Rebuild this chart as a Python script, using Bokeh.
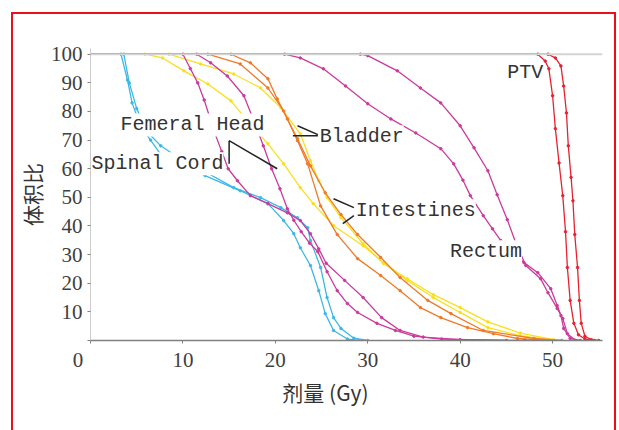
from bokeh.plotting import figure
from bokeh.layouts import column
from bokeh.models import Range1d, Label, Span, FixedTicker
from bokeh.embed import file_html
from bokeh.resources import INLINE

# ---------------- data (dose Gy, volume %) ----------------
spinal1_x = [0, 3.3, 4.0, 4.5, 5.4, 6.5, 7.6, 12.4, 16.2, 19.2, 20.9, 22.0, 22.7, 23.8, 24.7, 25.4, 26.3, 27.8, 29.0]
spinal1_y = [100, 100, 91, 83, 75, 70, 65, 57.6, 52.3, 47.8, 41.9, 37.3, 32.4, 26.2, 17.4, 9.4, 3.5, 0.5, 0]
spinal2_x = [0, 3.6, 4.2, 5.0, 6.1, 7.6, 9.0, 12.2, 15.5, 18.4, 20.6, 22.4, 23.5, 23.8, 24.9, 25.6, 26.3, 27.1, 28.5, 30.0]
spinal2_y = [100, 100, 90, 81, 73, 68, 65, 59.3, 53.4, 49.9, 46.4, 42.9, 39.4, 34.9, 25.5, 15, 8, 4.2, 0.8, 0]

femoral1_x = [0, 10, 10.8, 11.6, 12.3, 12.9, 13.5, 14.2, 14.9, 15.9, 17.3, 19.2, 21.3, 22.7, 23.8, 24.7, 25.5, 27.5, 29.5, 31.5, 33.5, 36, 40, 47]
femoral1_y = [100, 100, 95, 90, 84, 78, 72, 66, 60, 55.8, 50.6, 47.8, 44.6, 41.9, 37.3, 32, 27, 21, 15, 8, 3.5, 1.2, 0.3, 0]
femoral2_x = [0, 11.5, 13, 14.8, 16.6, 17.6, 18.7, 19.6, 20.5, 21.3, 22.0, 22.8, 23.7, 24.6, 25.6, 26.7, 27.8, 28.9, 31, 33, 35, 38, 45]
femoral2_y = [100, 100, 97, 92.4, 85.5, 77.4, 68, 60, 53, 46, 42, 38, 34, 31, 24, 17.4, 12.9, 9.8, 6, 3.5, 1.5, 0.5, 0]

bladder1_x = [0, 12.7, 16.2, 19.2, 20.9, 22.4, 23.5, 24.9, 26.7, 28.9, 31.4, 33.5, 35.7, 37.9, 40.8, 43.6, 46.2, 49.8]
bladder1_y = [100, 100, 96.6, 88.2, 80.2, 69.8, 61.7, 47, 37, 28.6, 22.7, 17.4, 11.5, 8.0, 4.5, 2.4, 0.7, 0]
bladder2_x = [0, 15.2, 17.3, 19.2, 20.2, 21.3, 22.4, 23.8, 25.4, 27.1, 28.9, 31.4, 33.5, 36.5, 39, 42.5, 48, 51]
bladder2_y = [100, 100, 97, 91.4, 84.4, 77.4, 70.5, 61, 51.6, 44, 37, 29, 22, 14, 9.4, 3.5, 0.7, 0]

intest1_x = [0, 5.9, 7.8, 10.1, 12.7, 15.2, 17.0, 19.2, 20.9, 22.7, 24.1, 26.3, 29.5, 31.7, 34.3, 37.1, 40.0, 43.0, 46.5, 50.1]
intest1_y = [100, 100, 98.7, 94.2, 89.6, 83.7, 76.7, 68.7, 61.7, 53.4, 47.8, 40.1, 33.1, 27.2, 20.9, 15.0, 9.8, 4.5, 1.7, 0]
intest2_x = [0, 8.5, 11.9, 15.5, 18.4, 20.6, 22.7, 23.8, 24.7, 25.6, 27.1, 29.5, 31.7, 34.3, 37.1, 40.0, 43.0, 46.5, 50.1, 51]
intest2_y = [100, 100, 96.6, 93.1, 88.2, 81.3, 72.2, 62.8, 55.8, 49.9, 42.9, 33.8, 26.9, 21.5, 16, 11.5, 6.5, 2.6, 0.3, 0]

rectum1_x = [0, 21, 22.7, 25.2, 27.6, 30.0, 32.5, 35.2, 37.9, 39.3, 40.3, 41.1, 42.5, 43.5, 44.4, 46.9, 48.4, 49.8, 50.5, 50.9, 51.2, 51.9, 53]
rectum1_y = [100, 100, 98.7, 94.9, 88.9, 82.7, 77.4, 72.5, 67.0, 61.7, 56, 50.6, 43.6, 39, 34.9, 27.2, 23.7, 18.1, 12.2, 8.7, 4.2, 0.7, 0]
rectum2_x = [0, 29.2, 30, 33.2, 35.7, 37.9, 40.0, 41.5, 43.0, 44.0, 45.1, 46.0, 47.1, 48.7, 49.5, 50.5, 51.1, 51.6, 52.5]
rectum2_y = [100, 100, 99.5, 94.2, 88.2, 83.0, 75.0, 67.3, 59.3, 50.9, 42.2, 34.2, 26.2, 21.6, 16.7, 11.2, 7.7, 2.4, 0]

ptv1_x = [0, 48.4, 49.2, 49.6, 50.0, 50.3, 50.7, 51.1, 51.4, 51.6, 51.9, 52.3, 52.8, 53.5, 54.5]
ptv1_y = [100, 100, 97.6, 94.9, 85.5, 74, 62, 50.6, 38, 25.5, 14, 6, 2, 0.5, 0]
ptv2_x = [0, 49.5, 50.3, 50.9, 51.2, 51.5, 51.7, 52.0, 52.2, 52.4, 52.7, 52.9, 53.1, 53.5, 54.2, 55]
ptv2_y = [100, 100, 98.7, 95.9, 88.9, 79.5, 68, 57, 48.8, 37, 25.5, 14, 6, 1.5, 0.3, 0]

x_ticks = [0, 10, 20, 30, 40, 50]
y_ticks = [0, 10, 20, 30, 40, 50, 60, 70, 80, 90, 100]
x_title = "剂量 (Gy)"
y_title = "体积比"

# organ labels: text, x (Gy), y (%)
labels = [("Femeral Head", 3.25, 75.3), ("Spinal Cord", 0.1, 61.7), ("Bladder", 24.8, 71.2),
          ("Intestines", 28.7, 45.3), ("Rectum", 38.9, 31.0), ("PTV", 45.1, 93.5)]
# leader lines (x0, y0, x1, y1) in data units
leaders = [(15.0, 69.8, 15.0, 61.7), (15.0, 69.8, 20.2, 60.0),
           (22.4, 75.0, 24.6, 71.9), (21.9, 71.5, 24.6, 71.5),
           (26.3, 49.5, 28.5, 46.4), (27.3, 40.8, 28.5, 43.6)]

CYAN = "#3cb8e8"
MAG = "#cc3a9c"
ORANGE = "#f07a2a"
YELLOW = "#f8e020"
RED = "#e82030"

p = figure(width=601, height=416, output_backend="svg", toolbar_location=None,
           x_range=Range1d(0, 55.4), y_range=Range1d(0, 102),
           min_border_left=77, min_border_right=12, min_border_top=34, min_border_bottom=90)
p.outline_line_color = None
p.grid.visible = False
p.background_fill_color = "white"
p.border_fill_color = "white"

p.add_layout(Span(location=100, dimension="width", line_color="#d4d4d4", line_width=2))

series = [
    (spinal1_x, spinal1_y, CYAN), (spinal2_x, spinal2_y, CYAN),
    (intest1_x, intest1_y, YELLOW), (intest2_x, intest2_y, YELLOW),
    (bladder1_x, bladder1_y, ORANGE), (bladder2_x, bladder2_y, ORANGE),
    (femoral1_x, femoral1_y, MAG), (femoral2_x, femoral2_y, MAG),
    (rectum1_x, rectum1_y, MAG), (rectum2_x, rectum2_y, MAG),
    (ptv1_x, ptv1_y, RED), (ptv2_x, ptv2_y, RED),
]
for xs, ys, c in series:
    p.line(xs, ys, line_color=c, line_width=1.3)
    p.scatter(xs[1:], ys[1:], size=2.5, color=c)

for x0, y0, x1, y1 in leaders:
    p.segment(x0=[x0], y0=[y0], x1=[x1], y1=[y1], line_color="#222222", line_width=1.5)

for t, x, y in labels:
    p.add_layout(Label(x=x, y=y, text=t, text_font="Liberation Mono", text_font_size="20px",
                       text_color="#333333", text_baseline="middle", text_align="left",
                       background_fill_color="white"))

# axes
for ax in (p.xaxis, p.yaxis):
    ax.major_label_text_font = "Liberation Serif"
    ax.major_label_text_font_size = "21px"
    ax.major_label_text_color = "#404040"
    ax.minor_tick_line_color = None
    ax.major_tick_line_color = "#808080"
    ax.major_tick_in = 0
    ax.major_tick_out = 3
    ax.axis_label_text_font = "Noto Sans CJK SC"
    ax.axis_label_text_font_style = "normal"
    ax.axis_label_text_color = "#333333"

p.xaxis.ticker = FixedTicker(ticks=x_ticks)
p.xaxis.major_label_overrides = {0: "0\u2003\u2009"}
p.xaxis.axis_line_color = "#808080"
p.xaxis.axis_line_width = 1.5
p.xaxis.major_label_standoff = 4
p.xaxis.axis_label = x_title + "\u3000\u3000"
p.xaxis.axis_label_text_font_size = "21px"
p.xaxis.axis_label_standoff = 2

p.yaxis.ticker = FixedTicker(ticks=y_ticks)
p.yaxis.major_label_overrides = {0: ""}
p.yaxis.axis_line_color = "#cccccc"
p.yaxis.major_label_standoff = 5
p.yaxis.axis_label = y_title
p.yaxis.axis_label_text_font_size = "21px"
p.yaxis.axis_label_standoff = 1

page = column(p, styles={"margin-left": "11px", "margin-top": "12px",
                         "border-left": "2px solid #e8101c", "border-top": "2px solid #e8101c",
                         "border-right": "2px solid #e8101c"})

open("out.html", "w").write(file_html(page, INLINE))
